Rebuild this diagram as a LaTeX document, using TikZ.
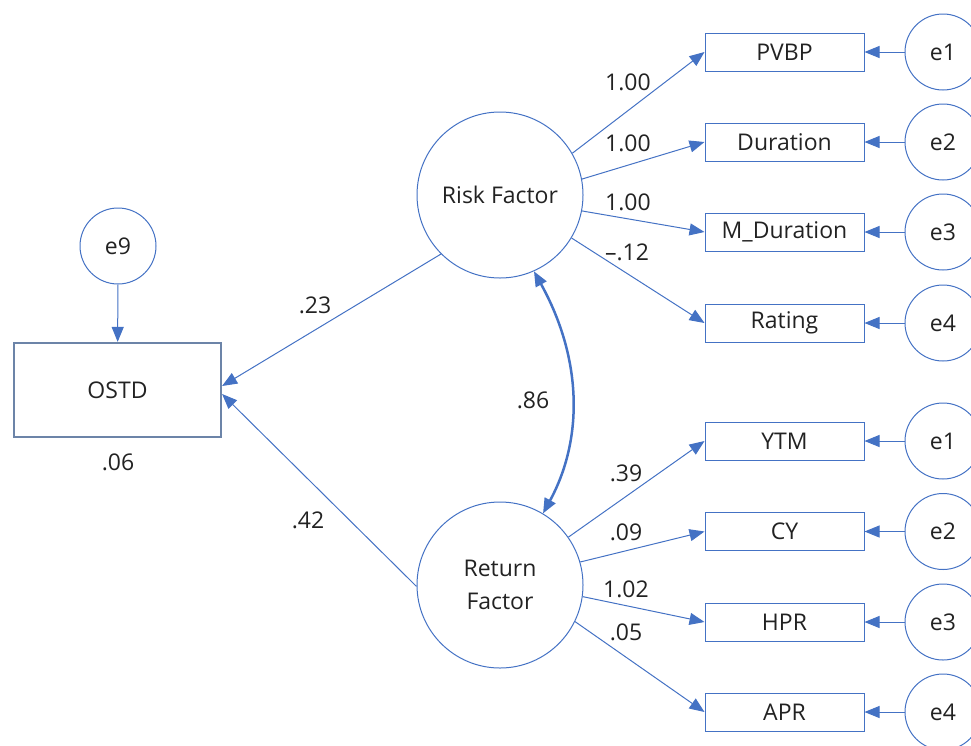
\documentclass[tikz,border=0pt]{standalone}
\usepackage{fontspec}
\setmainfont{Open Sans}
\usetikzlibrary{arrows.meta}
\definecolor{lineblue}{RGB}{68,114,196}
\definecolor{boxgray}{RGB}{108,132,168}
\definecolor{ink}{RGB}{34,34,34}
\begin{document}
\begin{tikzpicture}[x=1pt,y=-1pt,
  every node/.style={font=\fontsize{23}{33}\selectfont, text=ink},
  latent/.style={circle, draw=lineblue, line width=1pt, minimum size=166pt, inner sep=0pt, align=center},
  errvar/.style={circle, draw=lineblue, line width=1pt, minimum size=76pt, inner sep=0pt},
  obsbox/.style={rectangle, draw=lineblue, line width=1pt, minimum width=159pt, minimum height=38pt, inner sep=0pt},
  outcome/.style={rectangle, draw=boxgray, line width=2.2pt, minimum width=207pt, minimum height=94pt, inner sep=0pt},
  load/.style={draw=lineblue, line width=1pt, -{Triangle[length=15pt,width=12pt]}},
  cov/.style={draw=lineblue, line width=2.5pt, {Triangle[length=15pt,width=12pt]}-{Triangle[length=15pt,width=12pt]}},
  coef/.style={inner sep=0pt}
]
\useasboundingbox (0,0) rectangle (971,745);

% dependent variable and its error term
\node[outcome] (ostd) at (117.5,390) {OSTD};
\node[errvar] (e9) at (118,246) {e9};
\node[coef] (r2) at (118,462) {.06};

% latent factors
\node[latent] (risk) at (500,195) {Risk Factor};
\node[latent] (ret) at (500,585) {Return\\Factor};

% risk indicators
\node[obsbox] (pvbp) at (784.5,52) {PVBP};
\node[obsbox] (dur) at (784.5,142) {Duration};
\node[obsbox] (mdur) at (784.5,232) {M\_Duration};
\node[obsbox] (rating) at (784.5,323) {Rating};

% return indicators
\node[obsbox] (ytm) at (784.5,441) {YTM};
\node[obsbox] (cy) at (784.5,531.5) {CY};
\node[obsbox] (hpr) at (784.5,622) {HPR};
\node[obsbox] (apr) at (784.5,712) {APR};

% measurement errors
\node[errvar] (ra) at (943,52) {e1};
\node[errvar] (rb) at (943,142) {e2};
\node[errvar] (rc) at (943,232) {e3};
\node[errvar] (rd) at (943,323) {e4};
\node[errvar] (ta) at (943,441) {e1};
\node[errvar] (tb) at (943,531.5) {e2};
\node[errvar] (tc) at (943,622) {e3};
\node[errvar] (td) at (943,712) {e4};

% structural paths
\draw[load] (e9) -- (ostd);
\draw[load] (risk.225) -- ([yshift=4pt]ostd.east);
\draw[load] (ret.181) -- ([yshift=-4pt]ostd.east);
\node[coef] at (315,305) {.23};
\node[coef] at (308,520) {.42};

% factor covariance
\draw[cov] (risk.-66) .. controls (583,360) and (583,440) .. (ret.59);
\node[coef] at (533,400) {.86};

% loadings
\draw[load] (risk.30) -- (pvbp.west);
\draw[load] (risk.11) -- (dur.west);
\draw[load] (risk.-11) -- (mdur.west);
\draw[load] (risk.-31) -- (rating.west);
\node[coef] at (628,82) {1.00};
\node[coef] at (628,143) {1.00};
\node[coef] at (628,202) {1.00};
\node[coef] at (627,252) {–.12};

\draw[load] (ret.35) -- (ytm.west);
\draw[load] (ret.16) -- (cy.west);
\draw[load] (ret.-8) -- (hpr.west);
\draw[load] (ret.-26) -- (apr.west);
\node[coef] at (626,473) {.39};
\node[coef] at (626,532) {.09};
\node[coef] at (626,589) {1.02};
\node[coef] at (626,632) {.05};

% error paths
\draw[load] (ra) -- (pvbp);
\draw[load] (rb) -- (dur);
\draw[load] (rc) -- (mdur);
\draw[load] (rd) -- (rating);
\draw[load] (ta) -- (ytm);
\draw[load] (tb) -- (cy);
\draw[load] (tc) -- (hpr);
\draw[load] (td) -- (apr);
\end{tikzpicture}
\end{document}
